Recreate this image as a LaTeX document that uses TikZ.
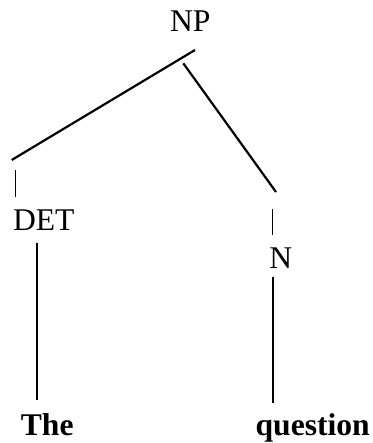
\documentclass[tikz,border=0pt]{standalone}
\usepackage{fontspec}
\setmainfont{Liberation Serif}

\begin{document}
\begin{tikzpicture}[x=0.5pt, y=-0.5pt,
    cat/.style={anchor=base, inner sep=0pt, font=\fontsize{15.8}{18}\selectfont},
    word/.style={cat, font=\fontsize{15.8}{18}\selectfont\bfseries},
    branch/.style={line width=1.1pt},
    tick/.style={line width=0.5pt}]
    \useasboundingbox (0, 0) rectangle (372, 443);

    \node[cat] (NP) at (190.3, 31.7) {NP};
    \node[cat] (DET) at (43.8, 230) {DET};
    \node[cat] (N) at (280.8, 268.3) {N};
    \node[word] (The) at (47.2, 435) {The};
    \node[word] (question) at (312.7, 435) {question};

    \coordinate (npL) at (195, 50);
    \coordinate (npR) at (183.3, 63.3);
    \coordinate (detTop) at (11.7, 160);
    \coordinate (nTop) at (276, 192);
    \coordinate (detTickA) at (15, 170);
    \coordinate (detTickB) at (15, 196.7);
    \coordinate (nTickA) at (272.3, 209.3);
    \coordinate (nTickB) at (272.3, 235);
    \coordinate (detLow) at (37.3, 243);
    \coordinate (theTop) at (37.3, 400);
    \coordinate (nLow) at (273.3, 276.7);
    \coordinate (questionTop) at (273.3, 402.7);

    \draw[branch] (npL) -- (detTop);
    \draw[branch] (npR) -- (nTop);
    \draw[tick] (detTickA) -- (detTickB);
    \draw[tick] (nTickA) -- (nTickB);
    \draw[branch] (detLow) -- (theTop);
    \draw[branch] (nLow) -- (questionTop);
\end{tikzpicture}
\end{document}
